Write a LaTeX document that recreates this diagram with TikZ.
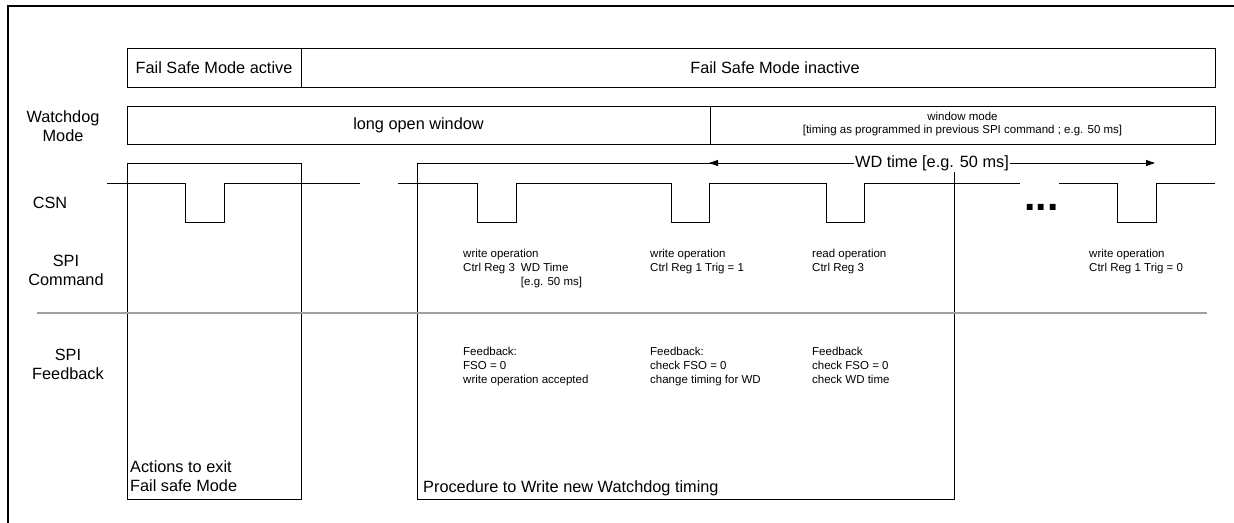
\documentclass[tikz,border=0pt]{standalone}
\usepackage{fontspec}
\setmainfont{Liberation Sans}
\usetikzlibrary{arrows.meta}
\begin{document}
\begin{tikzpicture}[x=1bp,y=-1bp,
  big/.style={font=\fontsize{16.3bp}{19bp}\selectfont, inner sep=0pt},
  lbl/.style={font=\fontsize{16.3bp}{19bp}\selectfont, inner sep=0pt, align=center},
  small/.style={font=\fontsize{11.5bp}{14bp}\selectfont, align=left, anchor=north west, inner sep=0pt},
  cell/.style={draw=black, line width=0.9bp, rectangle, inner sep=0pt},
  sig/.style={black, line width=0.9bp},
  wdarrow/.style={{Triangle[length=9bp,width=6bp]}-{Triangle[length=9bp,width=6bp]}, line width=0.9bp},
]
\useasboundingbox (0,0) rectangle (1234,523);
% outer frame
\draw[line width=2.6bp] (8,530) -- (8,6) -- (1240,6);

% row 1: fail safe mode
\node[cell, big, minimum width=174bp, minimum height=39bp] (fsA) at (214,67.5) {Fail Safe Mode active};
\node[cell, minimum width=914bp, minimum height=39bp] (fsI) at (758,67.5) {};
\node[big] (fsIt) at (775,67.5) {Fail Safe Mode inactive};

% row 2: watchdog mode
\node[cell, big, minimum width=583bp, minimum height=38bp] (wdL) at (418.5,125) {long open window};
\node[cell, minimum width=505bp, minimum height=38bp] (wdW) at (962.5,125) {};
\node[font=\fontsize{11.5bp}{13bp}\selectfont, align=center, inner sep=0pt] (wdWt) at (962.5,124) {window mode\\{[timing as programmed in previous SPI command ; e.g. 50 ms]}};

% left labels
\node[lbl] (lWD) at (63,126) {Watchdog\\Mode};
\node[lbl] (lCSN) at (50,203) {CSN};
\node[lbl] (lCMD) at (66,270) {SPI\\Command};
\node[lbl] (lFB) at (68,364) {SPI\\Feedback};

% procedure boxes
\node[cell, minimum width=174bp, minimum height=336bp] (act) at (214,331) {};
\node[cell, minimum width=537bp, minimum height=336bp] (proc) at (685.5,331) {};
\node[big, align=left, anchor=north west] (actt) at (130,460.5) {Actions to exit\\Fail safe Mode};
\node[big, anchor=north west] (proct) at (423,480) {Procedure to Write new Watchdog timing};

% separator
\draw[gray!75, line width=1.8bp] (37,313) -- (1207,313);

% WD time arrow
\coordinate (wdl) at (709,163);
\coordinate (wdr) at (1155,163);
\draw[wdarrow] (wdl) -- (wdr) node[midway, fill=white, big, inner sep=1.5bp] (wdt) {WD time [e.g. 50 ms]};

% CSN waveform
\draw[sig] (107,183) -- (185,183) -- (185,222) -- (224,222) -- (224,183) -- (360,183);
\draw[sig] (398,183) -- (477,183) -- (477,222) -- (516,222) -- (516,183) -- (671,183) -- (671,222) -- (709,222) -- (709,183) -- (826,183) -- (826,222) -- (864,222) -- (864,183) -- (1020,183);
\draw[sig] (1059,183) -- (1117,183) -- (1117,222) -- (1156,222) -- (1156,183) -- (1215,183);
\node[font=\fontsize{41bp}{41bp}\selectfont\bfseries, anchor=base west, inner sep=0pt] (dots) at (1024,211) {...};

% SPI commands
\node[small] (c1) at (463,248.7) {write operation\\Ctrl Reg 3\hspace{6bp}WD Time\\\hphantom{Ctrl Reg 3\hspace{6bp}}[e.g. 50 ms]};
\node[small] (c2) at (650,248.7) {write operation\\Ctrl Reg 1 Trig = 1};
\node[small] (c3) at (812,248.7) {read operation\\Ctrl Reg 3};
\node[small] (c4) at (1089,248.7) {write operation\\Ctrl Reg 1 Trig = 0};

% SPI feedback
\node[small] (f1) at (463,347) {Feedback:\\FSO = 0\\write operation accepted};
\node[small] (f2) at (650,347) {Feedback:\\check FSO = 0\\change timing for WD};
\node[small] (f3) at (812,347) {Feedback\\check FSO = 0\\check WD time};
\end{tikzpicture}
\end{document}
